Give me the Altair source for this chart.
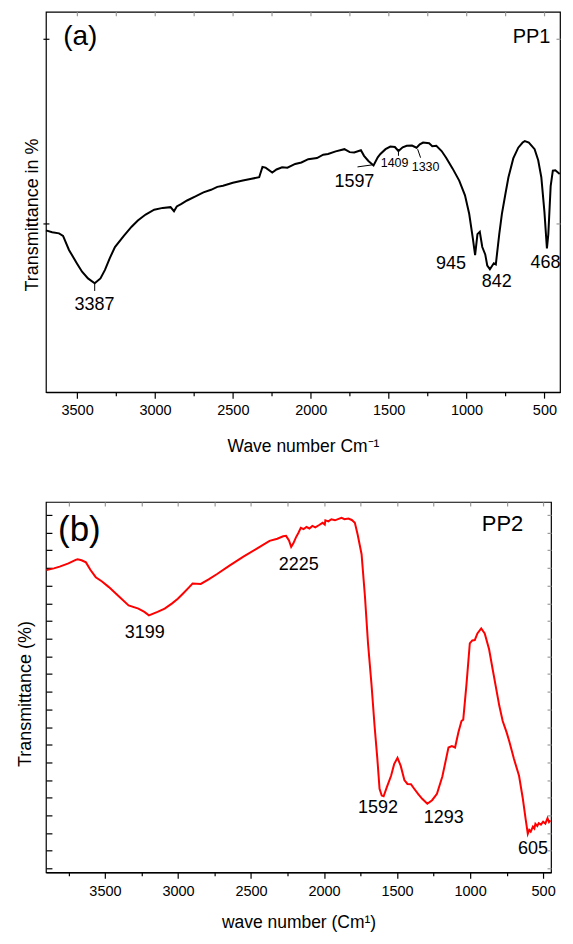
import altair as alt
import pandas as pd

# ---------------- Panel (a) PP1 spectrum ----------------
wn_a = [3700, 3660, 3616, 3590, 3552, 3500, 3468, 3430, 3387, 3350, 3321, 3290, 3257, 3200,
        3150, 3110, 3060, 3005, 2950, 2900, 2878, 2860, 2830, 2794, 2740, 2689, 2640, 2600,
        2563, 2500, 2436, 2380, 2331, 2310, 2290, 2247, 2220, 2184, 2150, 2100, 2060, 2016,
        1960, 1920, 1889, 1840, 1784, 1750, 1721, 1678, 1658, 1630, 1597, 1570, 1553, 1520,
        1489, 1460, 1437, 1410, 1384, 1350, 1321, 1300, 1279, 1240, 1220, 1194, 1160, 1131,
        1090, 1047, 1010, 983, 960, 945, 930, 915, 899, 880, 867, 850, 825, 812, 804, 790,
        773, 750, 731, 700, 668, 640, 626, 600, 563, 540, 520, 500, 484, 475, 460, 446, 430, 402]
t_a = [48.0, 47.5, 47.2, 46.5, 42.7, 39.0, 36.8, 35.0, 33.7, 35.0, 37.3, 40.5, 43.5, 46.5,
       49.0, 50.7, 52.3, 53.6, 54.1, 54.3, 53.2, 54.5, 55.2, 56.1, 57.2, 58.3, 59.0, 59.8,
       60.1, 60.9, 61.5, 62.0, 62.4, 65.2, 65.0, 63.7, 64.5, 65.1, 65.0, 66.0, 66.4, 67.3,
       67.6, 68.5, 68.7, 69.4, 70.0, 69.2, 69.1, 69.7, 68.2, 66.8, 65.6, 67.8, 68.7, 70.0,
       70.7, 70.6, 69.5, 70.5, 70.9, 71.0, 70.4, 71.3, 71.8, 71.6, 70.8, 70.9, 69.5, 67.7,
       64.8, 61.5, 57.5, 52.5, 46.0, 41.3, 47.0, 47.6, 43.5, 41.5, 38.5, 37.5, 39.1, 38.8,
       41.8, 47.0, 52.5, 58.0, 62.4, 67.5, 70.4, 71.8, 72.2, 71.8, 70.0, 67.0, 62.4, 53.0,
       43.1, 47.0, 60.0, 64.2, 64.3, 63.3]

# peak labels (text, wave number, transmittance)
lab_a_big = ["3387", "1597", "945", "842", "468"]
lab_a_big_x = [3388, 1720, 1100, 806, 493]
lab_a_big_y = [26.5, 59.7, 37.5, 32.8, 37.7]
lab_a_small = ["1409", "1330"]
lab_a_small_x = [1462, 1263]
lab_a_small_y = [65.1, 64.0]
# leader lines
lead_a_x = [3387, 1700, 1437, 1314]
lead_a_y = [33.7, 65.2, 70.0, 70.0]
lead_a_x2 = [3387, 1597, 1437, 1295]
lead_a_y2 = [31.6, 65.8, 68.2, 67.7]

# ---------------- Panel (b) PP2 spectrum ----------------
wn_b = [3900, 3850, 3810, 3750, 3700, 3687, 3660, 3630, 3600, 3563, 3520, 3473, 3400, 3338,
        3271, 3230, 3199, 3140, 3091, 3040, 3001, 2960, 2923, 2900, 2844, 2790, 2732, 2650,
        2552, 2460, 2373, 2320, 2280, 2260, 2240, 2225, 2210, 2193, 2175, 2159, 2140, 2120,
        2100, 2080, 2060, 2036, 2010, 1995, 1991, 1970, 1950, 1925, 1900, 1880, 1860, 1834,
        1810, 1789, 1770, 1743, 1720, 1699,
        1675, 1654, 1635, 1620, 1605, 1592, 1570, 1541, 1520, 1497, 1475, 1450, 1429, 1405,
        1384, 1355, 1328, 1293, 1260, 1227, 1190, 1148, 1125, 1103, 1080, 1059, 1047, 1025,
        1002, 985, 968, 950, 924, 900, 870, 845, 800, 777, 750, 732, 700, 665, 640, 620,
        605, 595, 585, 570, 560, 553, 540, 530, 515, 500, 485, 470, 460, 450]
t_b = [84.4, 84.9, 85.4, 86.3, 87.3, 87.5, 87.2, 86.6, 84.5, 82.4, 81.2, 79.6, 76.8, 74.4,
       73.5, 72.6, 71.6, 72.6, 73.5, 75.0, 76.3, 78.0, 79.6, 80.6, 80.5, 81.8, 83.3, 85.6,
       88.2, 90.5, 92.7, 93.3, 94.0, 94.1, 92.8, 91.0, 92.0, 93.6, 95.0, 96.4, 96.0, 96.6,
       96.2, 96.9, 96.5, 97.1, 97.8, 97.3, 98.5, 98.2, 98.8, 98.5, 98.9, 99.2, 98.8, 99.0,
       98.6, 97.8, 94.5, 88.9, 77.0, 63.7,
       52.0, 40.3, 31.0, 22.5, 20.6, 20.4, 23.0, 26.2, 29.5, 31.3, 29.0, 25.0, 23.9, 23.8,
       22.6, 21.0, 19.7, 18.3, 19.3, 21.1, 26.0, 34.2, 34.6, 34.2, 38.5, 41.7, 42.1, 52.0,
       63.7, 64.5, 64.6, 66.5, 67.9, 66.5, 62.0, 56.2, 46.0, 41.7, 38.5, 36.0, 31.0, 26.2,
       20.0, 14.0, 9.8, 10.9, 10.4, 11.8, 11.3, 12.6, 12.0, 12.8, 12.4, 13.2, 12.7, 14.2, 13.1, 13.6]

lab_b = ["3199", "2225", "1592", "1293", "605"]
lab_b_x = [3228, 2173, 1631, 1180, 569]
lab_b_y = [65.1, 84.4, 15.7, 12.9, 4.2]

FONT = "Liberation Sans"
GREY = "#9a9a9a"

df_a = pd.DataFrame({"wn": wn_a, "t": t_a})
df_b = pd.DataFrame({"wn": wn_b, "t": t_b})

major_test = "datum.value % 500 === 0"


def text_layer(labels, xs, ys, xs_scale, ys_scale, size):
    return alt.Chart(pd.DataFrame({"l": labels, "x": xs, "y": ys})).mark_text(
        font=FONT, fontSize=size, color="black", baseline="alphabetic").encode(
        x=alt.X("x:Q", scale=xs_scale, axis=None), y=alt.Y("y:Q", scale=ys_scale, axis=None),
        text="l:N")


# ---------- panel (a) ----------
xa = alt.Scale(domain=[3700, 400], nice=False, zero=False)
ya = alt.Scale(domain=[4.2, 107.2], nice=False, zero=False)
xvals_a = list(range(3500, 400, -250))

xaxis_a = alt.Axis(values=xvals_a, tickCount=100, format="d",
                   labelExpr="datum.value % 500 === 0 ? datum.label : ''",
                   tickSize={"condition": {"test": major_test, "value": 6}, "value": 3.5},
                   labelOverlap=False, labelPadding=5,
                   title="Wave number Cm\u207b\u00b9", titlePadding=21, grid=False)
yaxis_a = alt.Axis(values=[50, 100], tickCount=100, labels=False, tickSize=6, offset=-3,
                   domain=False, title="Transmittance in %", titlePadding=1, titleY=203,
                   grid=False, labelOverlap=False)

line_a = alt.Chart(df_a).mark_line(color="black", strokeWidth=2).encode(
    x=alt.X("wn:Q", scale=xa, axis=xaxis_a),
    y=alt.Y("t:Q", scale=ya, axis=yaxis_a),
)
mirror_a = alt.Chart(df_a).mark_line(opacity=0).encode(
    x=alt.X("wn:Q", scale=xa, axis=alt.Axis(orient="top", values=xvals_a, tickCount=100,
                                             labels=False, title=None, domain=False, offset=-4,
                                             tickSize=4, tickColor=GREY, grid=False)),
    y=alt.Y("t:Q", scale=ya, axis=alt.Axis(orient="right", values=[50, 100], tickCount=100,
                                            labels=False, title=None, domain=False, offset=-4,
                                            tickSize=4, tickColor=GREY, grid=False)),
)
lead_a = alt.Chart(pd.DataFrame({"x": lead_a_x, "y": lead_a_y, "x2": lead_a_x2, "y2": lead_a_y2})).mark_rule(
    color="black", strokeWidth=1).encode(
    x=alt.X("x:Q", scale=xa, axis=None), y=alt.Y("y:Q", scale=ya, axis=None), x2="x2:Q", y2="y2:Q")

panel_a = alt.layer(
    line_a, mirror_a, lead_a,
    text_layer(lab_a_big, lab_a_big_x, lab_a_big_y, xa, ya, 18),
    text_layer(lab_a_small, lab_a_small_x, lab_a_small_y, xa, ya, 12.5),
    text_layer(["(a)"], [3479], [98.2], xa, ya, 28),
    text_layer(["PP1"], [583], [98.7], xa, ya, 20),
).resolve_axis(x="independent", y="independent").properties(width=515, height=381)

# ---------- panel (b) ----------
xb = alt.Scale(domain=[3904, 446], nice=False, zero=False)
yb = alt.Scale(domain=[-1.1, 103.7], nice=False, zero=False)
xvals_b = list(range(3750, 400, -250))
yvals_b = list(range(0, 101, 5))

xaxis_b = alt.Axis(values=xvals_b, tickCount=100, format="d",
                   labelExpr="datum.value % 500 === 0 ? datum.label : ''",
                   tickSize={"condition": {"test": major_test, "value": 6}, "value": 3.5},
                   labelOverlap=False, labelPadding=6,
                   title="wave number (Cm\u00b9)", titlePadding=16, grid=False)
yaxis_b = alt.Axis(values=yvals_b, tickCount=100, labels=False, tickSize=6, offset=-6,
                   domain=False, labelOverlap=False,
                   title="Transmittance (%)", titlePadding=11, titleY=192, grid=False)

line_b = alt.Chart(df_b).mark_line(color="#ff0000", strokeWidth=2).encode(
    x=alt.X("wn:Q", scale=xb, axis=xaxis_b),
    y=alt.Y("t:Q", scale=yb, axis=yaxis_b),
)
mirror_b = alt.Chart(df_b).mark_line(opacity=0).encode(
    x=alt.X("wn:Q", scale=xb, axis=alt.Axis(orient="top", values=xvals_b, tickCount=100,
                                             labels=False, title=None, domain=False, offset=-4,
                                             tickSize=4, tickColor=GREY, grid=False)),
    y=alt.Y("t:Q", scale=yb, axis=alt.Axis(orient="right", values=yvals_b, tickCount=100,
                                            labels=False, title=None, domain=False, offset=-4,
                                            tickSize=4, tickColor=GREY, grid=False)),
)

panel_b = alt.layer(
    line_b, mirror_b,
    text_layer(lab_b, lab_b_x, lab_b_y, xb, yb, 18),
    text_layer(["(b)"], [3675], [92.7], xb, yb, 35),
    text_layer(["PP2"], [778], [95.5], xb, yb, 22),
).resolve_axis(x="independent", y="independent").properties(width=506, height=371)

chart = alt.vconcat(panel_a, panel_b, spacing=44).properties(
    padding={"left": 7, "top": 1, "right": 0, "bottom": 0}
).configure_view(stroke="black", strokeWidth=1.2).configure_axis(
    domainColor="black", tickColor="black", labelColor="black", titleColor="black",
    labelFont=FONT, titleFont=FONT, labelFontSize=14.5, titleFontSize=17.5,
    titleFontWeight="normal", domainWidth=1.2, tickWidth=1.2
).configure_axisY(titleFontSize=18)

chart.save("out.html", embed_options={"renderer": "svg", "actions": False})
